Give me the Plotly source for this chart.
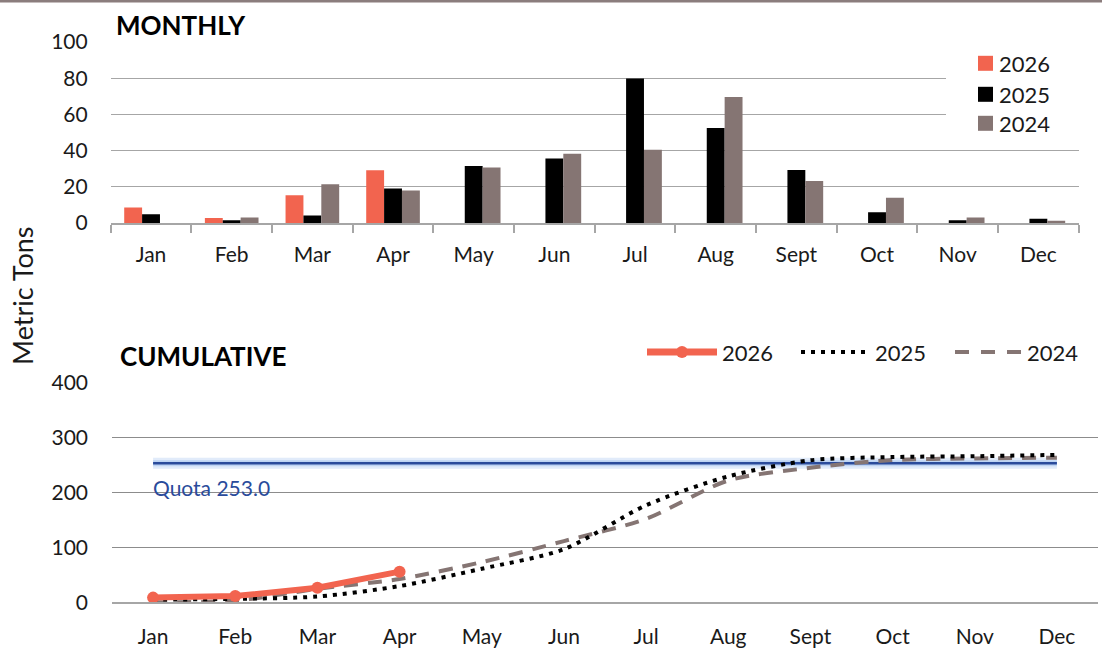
import numpy as np
import plotly.graph_objects as go

# ---------------- data ----------------
months = ["Jan", "Feb", "Mar", "Apr", "May", "Jun", "Jul", "Aug", "Sept", "Oct", "Nov", "Dec"]
monthly_2026 = [8.5, 2.8, 15.3, 29.1]
monthly_2025 = [4.8, 1.5, 4.2, 19.0, 31.5, 35.6, 79.8, 52.5, 29.3, 5.9, 1.5, 2.4]
monthly_2024 = [0.0, 3.1, 21.4, 17.9, 30.6, 38.3, 40.5, 69.6, 23.2, 14.0, 3.0, 1.3]
quota = 253.0
year_labels = ["2026", "2025", "2024"]
monthly_ticks = [0, 20, 40, 60, 80, 100]
cumulative_ticks = [0, 100, 200, 300, 400]

cum_2026 = np.cumsum(monthly_2026)
cum_2025 = np.cumsum(monthly_2025)
cum_2024 = np.cumsum(monthly_2024)

# ---------------- styles ----------------
W, H = 1102, 667
C26 = "#F2644F"
C25 = "#000000"
C24 = "#857573"
CQ = "#2A4B9B"
FONT = "Lato"
TXT = "#1a1a1a"


def px(x):
    return x / W


def py(y):
    return 1 - y / H


fig = go.Figure()

for name, vals, col in [(year_labels[0], monthly_2026, C26),
                        (year_labels[1], monthly_2025, C25),
                        (year_labels[2], monthly_2024, C24)]:
    fig.add_trace(go.Bar(x=months[:len(vals)], y=vals, name=name, marker_color=col,
                         marker_line_width=0, xaxis="x", yaxis="y", showlegend=False))

fig.add_trace(go.Scatter(x=months, y=[quota] * len(months), mode="lines",
                         line=dict(color="rgba(120,165,230,0.22)", width=11),
                         xaxis="x2", yaxis="y2", showlegend=False, hoverinfo="skip"))
fig.add_trace(go.Scatter(x=months, y=[quota] * len(months), mode="lines",
                         line=dict(color="rgba(110,160,230,0.30)", width=6),
                         xaxis="x2", yaxis="y2", showlegend=False, hoverinfo="skip"))
fig.add_trace(go.Scatter(x=months, y=[quota] * len(months), mode="lines", name="Quota",
                         line=dict(color=CQ, width=2.5),
                         xaxis="x2", yaxis="y2", showlegend=False))

fig.add_trace(go.Scatter(x=months, y=cum_2024, mode="lines", name=year_labels[2],
                         line=dict(color=C24, width=4, dash="14px,10px", shape="spline", smoothing=0.8),
                         xaxis="x2", yaxis="y2", showlegend=False))
fig.add_trace(go.Scatter(x=months, y=cum_2025, mode="lines", name=year_labels[1],
                         line=dict(color=C25, width=4, dash="4px,6px", shape="spline", smoothing=0.8),
                         xaxis="x2", yaxis="y2", showlegend=False))
fig.add_trace(go.Scatter(x=months[:len(cum_2026)], y=cum_2026, mode="lines+markers", name=year_labels[0],
                         line=dict(color=C26, width=6), marker=dict(color=C26, size=12),
                         xaxis="x2", yaxis="y2", showlegend=False))

tickfont = dict(family=FONT, size=21, color=TXT)

fig.update_layout(
    autosize=True,
    margin=dict(l=0, r=0, t=0, b=0, autoexpand=False),
    paper_bgcolor="white", plot_bgcolor="white",
    barmode="group", bargap=0.335, bargroupgap=0,
    font=dict(family=FONT, color=TXT),
    xaxis=dict(domain=[px(110.7), px(1078.7)], anchor="y", type="category", automargin=False,
               categoryorder="array", categoryarray=months, range=[-0.5, 11.5],
               showline=True, linecolor="#A6A6A6", linewidth=2,
               ticks="outside", tickson="boundaries", ticklen=8, tickcolor="#A6A6A6", tickwidth=2,
               showgrid=False, tickfont=tickfont, ticklabelstandoff=12),
    yaxis=dict(domain=[py(223), py(42)], anchor="x", range=[0, 100], tickvals=monthly_ticks, automargin=False,
               showgrid=True, gridcolor="#A6A6A6", gridwidth=1.3, zeroline=False,
               tickfont=tickfont, ticklabelstandoff=22),
    xaxis2=dict(domain=[px(112), px(1098)], anchor="y2", type="category", automargin=False,
                categoryorder="array", categoryarray=months, range=[-0.5, 11.5],
                showline=True, linecolor="#A6A6A6", linewidth=2, ticks="",
                showgrid=False, tickfont=tickfont, ticklabelstandoff=14),
    yaxis2=dict(domain=[py(602.3), py(382.3)], anchor="x2", range=[0, 400], tickvals=cumulative_ticks,
                automargin=False,
                showgrid=True, gridcolor="#8C8C8C", gridwidth=1.3, zeroline=False,
                tickfont=tickfont, ticklabelstandoff=23),
)

shapes = []
annotations = []

shapes.append(dict(type="line", xref="paper", yref="paper", x0=0, x1=1, y0=py(1), y1=py(1),
                   line=dict(color="#8B7D7D", width=3)))

annotations.append(dict(text="<b>MONTHLY</b>", xref="paper", yref="paper", x=px(114), y=py(25),
                        xanchor="left", yanchor="middle", showarrow=False,
                        font=dict(family=FONT, size=26, color="#000")))
annotations.append(dict(text="<b>CUMULATIVE</b>", xref="paper", yref="paper", x=px(118), y=py(356),
                        xanchor="left", yanchor="middle", showarrow=False,
                        font=dict(family=FONT, size=26, color="#000")))
annotations.append(dict(text="Metric Tons", xref="paper", yref="paper", x=px(22), y=py(296),
                        xanchor="center", yanchor="middle", textangle=-90, showarrow=False,
                        font=dict(family=FONT, size=27, color=TXT)))

annotations.append(dict(text="Quota 253.0", xref="x2", yref="y2", x=months[0], y=quota,
                        xanchor="left", yanchor="middle", yshift=-24, xshift=-2, showarrow=False,
                        font=dict(family=FONT, size=21, color=CQ)))

shapes.append(dict(type="rect", xref="paper", yref="paper", x0=px(946), x1=px(1082), y0=py(140), y1=py(48),
                   fillcolor="white", line=dict(width=0), layer="above"))
for (lab, col, yc) in [(year_labels[0], C26, 63.3), (year_labels[1], C25, 94.3), (year_labels[2], C24, 123.3)]:
    shapes.append(dict(type="rect", xref="paper", yref="paper", x0=px(978), x1=px(993),
                       y0=py(yc + 7.5), y1=py(yc - 7.5), fillcolor=col, line=dict(width=0), layer="above"))
    annotations.append(dict(text=lab, xref="paper", yref="paper", x=px(997), y=py(yc),
                            xanchor="left", yanchor="middle", showarrow=False,
                            font=dict(family=FONT, size=22, color=TXT)))

ly = 352
shapes.append(dict(type="line", xref="paper", yref="paper", x0=px(647), x1=px(717), y0=py(ly), y1=py(ly),
                   line=dict(color=C26, width=7)))
shapes.append(dict(type="circle", xref="paper", yref="paper", x0=px(676), x1=px(688), y0=py(ly + 6), y1=py(ly - 6),
                   fillcolor=C26, line=dict(width=0)))
annotations.append(dict(text=year_labels[0], xref="paper", yref="paper", x=px(720), y=py(ly),
                        xanchor="left", yanchor="middle", showarrow=False, font=dict(family=FONT, size=22, color=TXT)))
shapes.append(dict(type="line", xref="paper", yref="paper", x0=px(801), x1=px(869), y0=py(ly), y1=py(ly),
                   line=dict(color=C25, width=4, dash="4px,6px")))
annotations.append(dict(text=year_labels[1], xref="paper", yref="paper", x=px(873), y=py(ly),
                        xanchor="left", yanchor="middle", showarrow=False, font=dict(family=FONT, size=22, color=TXT)))
shapes.append(dict(type="line", xref="paper", yref="paper", x0=px(955), x1=px(1022), y0=py(ly), y1=py(ly),
                   line=dict(color=C24, width=4, dash="14px,12px")))
annotations.append(dict(text=year_labels[2], xref="paper", yref="paper", x=px(1025), y=py(ly),
                        xanchor="left", yanchor="middle", showarrow=False, font=dict(family=FONT, size=22, color=TXT)))

fig.update_layout(shapes=shapes, annotations=annotations)

fig.write_html(
    "out.html",
    default_width="100vw",
    default_height="100vh",
    config={"displayModeBar": False, "responsive": True},
    post_script="document.body.style.margin='0px';document.body.style.padding='0px';"
                "document.body.style.overflow='hidden';document.documentElement.style.overflow='hidden';",
)
